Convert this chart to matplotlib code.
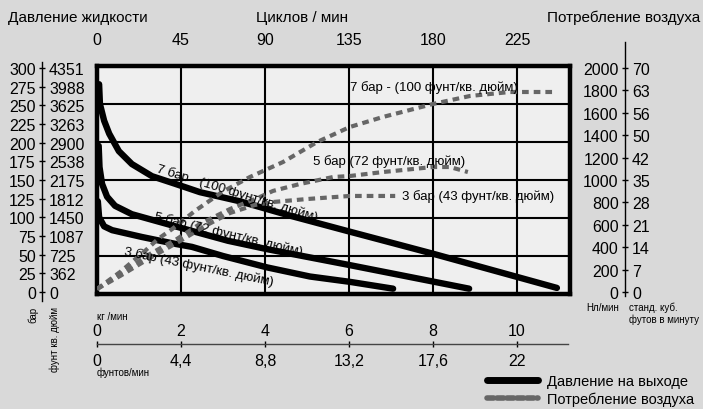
import matplotlib.pyplot as plt
from matplotlib.lines import Line2D

plt.rcParams['font.family'] = ['Liberation Sans', 'DejaVu Sans']

W, H = 703, 410

# давление на выходе (бар) от расхода (кг/мин)
kg_7 = [0.05, 0.07, 0.17, 0.29, 0.52, 0.83, 1.31, 1.86, 2.45, 3.40, 4.60, 6.02, 8.0, 10.95]
bar_7 = [276, 250, 228, 211, 188, 171, 155, 145, 134, 122, 103, 82, 53, 8]
kg_5 = [0.04, 0.06, 0.12, 0.24, 0.43, 0.83, 1.48, 2.26, 3.12, 4.05, 6.02, 8.86]
bar_5 = [195, 167, 145, 128, 116, 105, 95, 83, 70, 59, 38, 7]
kg_3 = [0.02, 0.05, 0.17, 0.36, 1.07, 1.86, 2.26, 3.0, 4.05, 5.07, 6.02, 7.05]
bar_3 = [122, 101, 89, 84, 75, 66, 62, 50, 35, 23, 16, 7]

# потребление воздуха (Нл/мин)
air_kg_7 = [0, 0.55, 1.14, 1.45, 1.79, 2.33, 2.98, 3.64, 4.43, 5.24, 6.02, 6.81, 8.0, 8.88, 9.83, 10.95]
air_7 = [44, 193, 377, 482, 570, 728, 895, 1026, 1158, 1333, 1465, 1553, 1667, 1737, 1772, 1772]
air_kg_5 = [0, 0.55, 1.26, 1.90, 2.45, 3.17, 3.88, 4.19, 4.83, 5.62, 6.02, 6.81, 8.0, 8.40, 8.83]
air_5 = [44, 175, 351, 482, 614, 746, 851, 904, 965, 1026, 1035, 1070, 1114, 1114, 1070]
air_kg_3 = [0, 0.55, 1.26, 1.98, 2.57, 3.17, 3.76, 4.19, 5.0, 6.02, 7.10]
air_3 = [44, 158, 316, 465, 596, 711, 781, 807, 833, 860, 860]

# шкалы
bar_ticks = list(range(0, 301, 25))
psi_labels = ['0', '362', '725', '1087', '1450', '1812', '2175', '2538', '2900',
              '3263', '3625', '3988', '4351']
air_ticks = list(range(0, 2001, 200))
cfm_labels = ['0', '7', '14', '21', '28', '35', '42', '50', '56', '63', '70']
kg_ticks = [0, 2, 4, 6, 8, 10]
lb_labels = ['0', '4,4', '8,8', '13,2', '17,6', '22']
cycle_ticks = [0, 45, 90, 135, 180, 225]

label_7 = '7 бар - (100 фунт/кв. дюйм)'
label_5 = '5 бар (72 фунт/кв. дюйм)'
label_3 = '3 бар (43 фунт/кв. дюйм)'

AIR = '#666666'
NUM = 11.5


def box(l, t, r, b):
    return [l / W, 1 - b / H, (r - l) / W, (b - t) / H]


def fx(x):
    return x / W


def fy(y):
    return 1 - y / H


fig = plt.figure(figsize=(W / 100, H / 100), dpi=100, facecolor='#d9d9d9')

# основная область
ax = fig.add_axes(box(97, 67, 570, 295))
ax.set_facecolor('#efefef')
ax.set_xlim(0, 473 / 42)
ax.set_ylim(0, 300)
ax.set_xticks(kg_ticks)
ax.set_yticks(range(0, 301, 50))
ax.tick_params(length=0, labelbottom=False, labelleft=False)
ax.grid(True, color='black', lw=1.5)
ax.set_axisbelow(True)
for s in ax.spines.values():
    s.set_linewidth(3.2)
    s.set_zorder(6)

ax.plot(kg_7, bar_7, color='black', lw=4.6, solid_capstyle='round', solid_joinstyle='round')
ax.plot(kg_5, bar_5, color='black', lw=4.6, solid_capstyle='round', solid_joinstyle='round')
ax.plot(kg_3, bar_3, color='black', lw=4.6, solid_capstyle='round', solid_joinstyle='round')

# циклов / мин сверху
ax_top = ax.twiny()
ax_top.set_xlim(0, 473 / 42 * 22.5)
ax_top.set_xticks(cycle_ticks)
ax_top.tick_params(length=0, pad=14, labelsize=NUM)
for s in ax_top.spines.values():
    s.set_visible(False)

# воздух
ax_air = ax.twinx()
ax_air.set_ylim(0, 2000)
ax_air.set_yticks([])
for s in ax_air.spines.values():
    s.set_visible(False)
dash = dict(color=AIR, lw=3, dashes=(1.6, 1.2), dash_capstyle='butt')
ax_air.plot(air_kg_7, air_7, **dash)
ax_air.plot(air_kg_5, air_5, **dash)
ax_air.plot(air_kg_3, air_3, **dash)

ax_air.text(6.02, 1816, label_7, fontsize=9.5, va='center', ha='left')
ax_air.text(5.14, 1167, label_5, fontsize=9.5, va='center', ha='left')
ax_air.text(7.26, 860, label_3, fontsize=9.5, va='center', ha='left')

ax_air.text(3.33, 134, label_7, transform=ax.transData, fontsize=9.5, rotation=-17,
            rotation_mode='anchor', ha='center', va='center')
ax_air.text(3.14, 80, label_5, transform=ax.transData, fontsize=9.5, rotation=-13.5,
            rotation_mode='anchor', ha='center', va='center')
ax_air.text(2.43, 37, label_3, transform=ax.transData, fontsize=9.5, rotation=-11.6,
            rotation_mode='anchor', ha='center', va='center')

# левая шкала: бар / psi
sl = fig.add_axes(box(42, 63, 42.05, 302))
sl.set_facecolor('none')
sl.set_ylim(-12, 308)
sl.set_xticks([])
sl.set_yticks(bar_ticks)
sl.tick_params(axis='y', direction='inout', length=5, width=1, pad=2, labelsize=NUM)
for k, s in sl.spines.items():
    s.set_visible(k == 'left')
sl.spines['left'].set_linewidth(1)
sl2 = sl.twinx()
sl2.set_ylim(-12, 308)
sl2.set_yticks(bar_ticks)
sl2.set_yticklabels(psi_labels)
sl2.tick_params(axis='y', length=0, pad=5, labelsize=NUM)
for s in sl2.spines.values():
    s.set_visible(False)

# правая шкала: Нл/мин / SCFM
sr = fig.add_axes(box(625, 43, 625.05, 297))
sr.set_facecolor('none')
sr.set_ylim(-35.7, 2232)
sr.set_xticks([])
sr.set_yticks(air_ticks)
sr.tick_params(axis='y', direction='inout', length=5, width=1, pad=2, labelsize=NUM)
for k, s in sr.spines.items():
    s.set_visible(k == 'left')
sr.spines['left'].set_linewidth(1)
sr2 = sr.twinx()
sr2.set_ylim(-35.7, 2232)
sr2.set_yticks(air_ticks)
sr2.set_yticklabels(cfm_labels)
sr2.tick_params(axis='y', length=0, pad=5, labelsize=NUM)
for s in sr2.spines.values():
    s.set_visible(False)

# нижняя шкала: кг/мин / фунтов/мин
sb = fig.add_axes(box(97, 345, 568, 345.05))
sb.set_facecolor('none')
sb.set_xlim(0, 471 / 42)
sb.set_yticks([])
sb.set_xticks(kg_ticks)
sb.set_xticklabels(lb_labels)
sb.tick_params(axis='x', direction='inout', length=5, width=1, pad=4, labelsize=NUM)
for k, s in sb.spines.items():
    s.set_visible(k == 'bottom')
sb.spines['bottom'].set_linewidth(1)
sb.spines['bottom'].set_color('#444444')
sb2 = sb.twiny()
sb2.set_xlim(0, 471 / 42)
sb2.set_xticks(kg_ticks)
sb2.tick_params(axis='x', length=0, pad=4, labelsize=NUM)
for s in sb2.spines.values():
    s.set_visible(False)

# подписи
fig.text(fx(8), fy(18), 'Давление жидкости', fontsize=11, va='center', ha='left')
fig.text(fx(302), fy(18), 'Циклов / мин', fontsize=11, va='center', ha='center')
fig.text(fx(700), fy(18), 'Потребление воздуха', fontsize=11, va='center', ha='right')
fig.text(fx(97), fy(317), 'кг /мин', fontsize=7, va='center', ha='left')
fig.text(fx(97), fy(373), 'фунтов/мин', fontsize=7, va='center', ha='left')
fig.text(fx(33), fy(307), 'бар', fontsize=7, rotation=90, va='top', ha='center')
fig.text(fx(55), fy(307), 'фунт кв. дюйм', fontsize=7, rotation=90, va='top', ha='center')
fig.text(fx(603), fy(308), 'Нл/мин', fontsize=7, va='center', ha='center')
fig.text(fx(629), fy(303), 'станд. куб.\nфутов в минуту', fontsize=7, va='top', ha='left',
         linespacing=1.1)

# легенда
handles = [Line2D([], [], color='black', lw=5, solid_capstyle='round'),
           Line2D([], [], color=AIR, lw=4, dashes=(1.2, 0.6), dash_capstyle='round')]
fig.legend(handles, ['Давление на выходе', 'Потребление воздуха'], loc='upper left',
           bbox_to_anchor=(fx(487), fy(375)), frameon=False, fontsize=10.5,
           handlelength=3.5, handletextpad=0.6, labelspacing=0.25,
           borderpad=0, borderaxespad=0)

fig.savefig('out.png', dpi=100, facecolor=fig.get_facecolor())
